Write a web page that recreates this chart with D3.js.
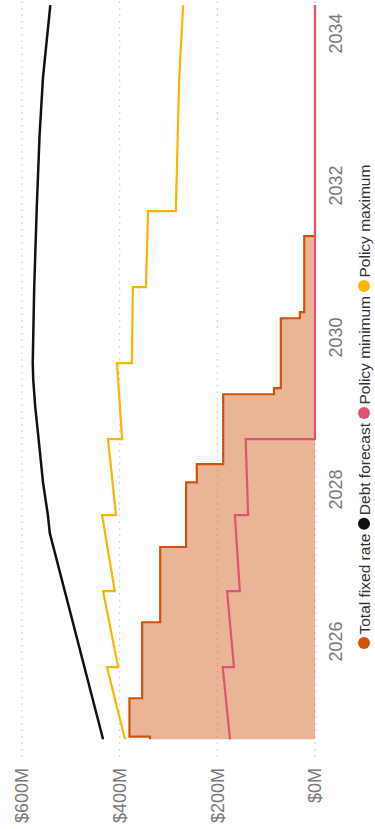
<!DOCTYPE html>
<html>
<head>
<meta charset="utf-8">
<script src="https://cdn.jsdelivr.net/npm/d3@7/dist/d3.min.js"></script>
<style>
  html, body { margin: 0; padding: 0; background: #fff; }
  svg { display: block; font-family: "Liberation Sans", Arial, sans-serif; }
</style>
</head>
<body>
<svg id="chart" width="375" height="829"></svg>
<script>
// Debt forecast (decimal years, $M)
const debtYears  = [2024.72, 2027.43, 2027.67, 2028.10, 2028.67, 2029.10, 2029.45, 2029.67, 2030.67, 2031.67, 2032.67, 2033.43, 2034.38];
const debtValues = [434, 543, 547, 557, 566, 573, 577, 578, 575, 570, 564, 557, 542];

// Policy maximum (repeated years mark the annual step changes)
const maxYears  = [2024.72, 2025.67, 2025.67, 2026.67, 2026.67, 2027.67, 2027.67, 2028.67, 2028.67, 2029.67, 2029.67, 2030.67, 2030.67, 2031.67, 2031.67, 2033.43, 2034.38];
const maxValues = [389, 426, 403, 434, 410, 436, 407.5, 424, 395, 405.5, 375, 373, 346, 342, 285, 278, 270];

// Policy minimum
const minYears  = [2024.72, 2025.67, 2025.67, 2026.67, 2026.67, 2027.67, 2027.67, 2028.67, 2028.67, 2034.38];
const minValues = [174, 189, 166, 180, 154, 164, 137, 142, 0, 0];

// Total fixed rate (step changes as hedges mature)
const fixedYears  = [2024.72, 2024.755, 2025.26, 2026.26, 2027.25, 2028.10, 2028.34, 2029.26, 2029.34, 2030.26, 2030.34, 2031.34, 2034.38];
const fixedValues = [338, 380, 354, 317, 264, 242, 188, 84, 70, 31, 22, 0, 0];

const yearTicks  = [2026, 2028, 2030, 2032, 2034];
const valueTicks = [0, 200, 400, 600];

const seriesNames  = ["Total fixed rate", "Debt forecast", "Policy minimum", "Policy maximum"];
const seriesColors = ["#d2510c", "#111111", "#dd5575", "#ffb400"];

const zip = (xs, ys) => xs.map((x, i) => ({ x, y: ys[i] }));
const debt  = zip(debtYears, debtValues);
const pmax  = zip(maxYears, maxValues);
const pmin  = zip(minYears, minValues);
const fixed = zip(fixedYears, fixedValues);

// The chart is laid out horizontally (829 wide, 375 tall) and turned a quarter turn.
const W = 829, H = 375;
const svg = d3.select("#chart");
const g = svg.append("g").attr("transform", `translate(0,${W}) rotate(-90)`);

const x = d3.scaleLinear().domain([2024.72, 2034.38]).range([89.7, 823.9]);
const y = d3.scaleLinear().domain([0, 600]).range([315, 22]);

// Dotted value gridlines
g.append("g").selectAll("line").data(valueTicks).join("line")
  .attr("x1", 72).attr("x2", W)
  .attr("y1", d => y(d)).attr("y2", d => y(d))
  .attr("stroke", "#c8c8c8").attr("stroke-width", 1.2)
  .attr("stroke-dasharray", "1.5,5");

// Value axis labels
const yAxis = d3.axisLeft(y).tickValues(valueTicks).tickFormat(d => `$${d}M`).tickSize(0).tickPadding(0);
g.append("g").attr("transform", "translate(61,0)").call(yAxis)
  .call(s => s.select(".domain").remove())
  .selectAll("text")
  .attr("font-size", 18).attr("fill", "#7a7a7a")
  .attr("font-family", "'Liberation Sans', Arial, sans-serif");

// Year axis labels
const xAxis = d3.axisBottom(x).tickValues(yearTicks).tickFormat(d3.format("d")).tickSize(0).tickPadding(0);
g.append("g").attr("transform", "translate(0,315)").call(xAxis)
  .call(s => s.select(".domain").remove())
  .selectAll("text")
  .attr("y", 27).attr("dy", 0)
  .attr("font-size", 18).attr("fill", "#7a7a7a")
  .attr("font-family", "'Liberation Sans', Arial, sans-serif");

// Fixed-rate area
g.append("path").datum(fixed)
  .attr("d", d3.area().curve(d3.curveStepAfter).x(d => x(d.x)).y0(y(0)).y1(d => y(d.y)))
  .attr("fill", "#ce5b16").attr("fill-opacity", 0.45);

const line = d3.line().x(d => x(d.x)).y(d => y(d.y));

g.append("path").datum(fixed)
  .attr("d", d3.line().curve(d3.curveStepAfter).x(d => x(d.x)).y(d => y(d.y)))
  .attr("fill", "none").attr("stroke", seriesColors[0]).attr("stroke-width", 2.2);

g.append("path").datum(debt)
  .attr("d", line)
  .attr("fill", "none").attr("stroke", seriesColors[1]).attr("stroke-width", 2.5);

g.append("path").datum(pmax)
  .attr("d", line)
  .attr("fill", "none").attr("stroke", seriesColors[3]).attr("stroke-width", 2.2);

g.append("path").datum(pmin)
  .attr("d", line)
  .attr("fill", "none").attr("stroke", seriesColors[2]).attr("stroke-width", 2.2);

// Legend
const legend = g.append("g").attr("transform", "translate(0,364)");
let cx = 186;
seriesNames.forEach((name, i) => {
  legend.append("circle").attr("cx", cx).attr("cy", 0).attr("r", 6).attr("fill", seriesColors[i]);
  const t = legend.append("text").attr("x", cx + 8.5).attr("y", 0).attr("dy", "0.36em")
    .attr("font-size", 15.5).attr("fill", "#333").text(name);
  cx = cx + 8.5 + t.node().getComputedTextLength() + 10;
});
</script>
</body>
</html>
